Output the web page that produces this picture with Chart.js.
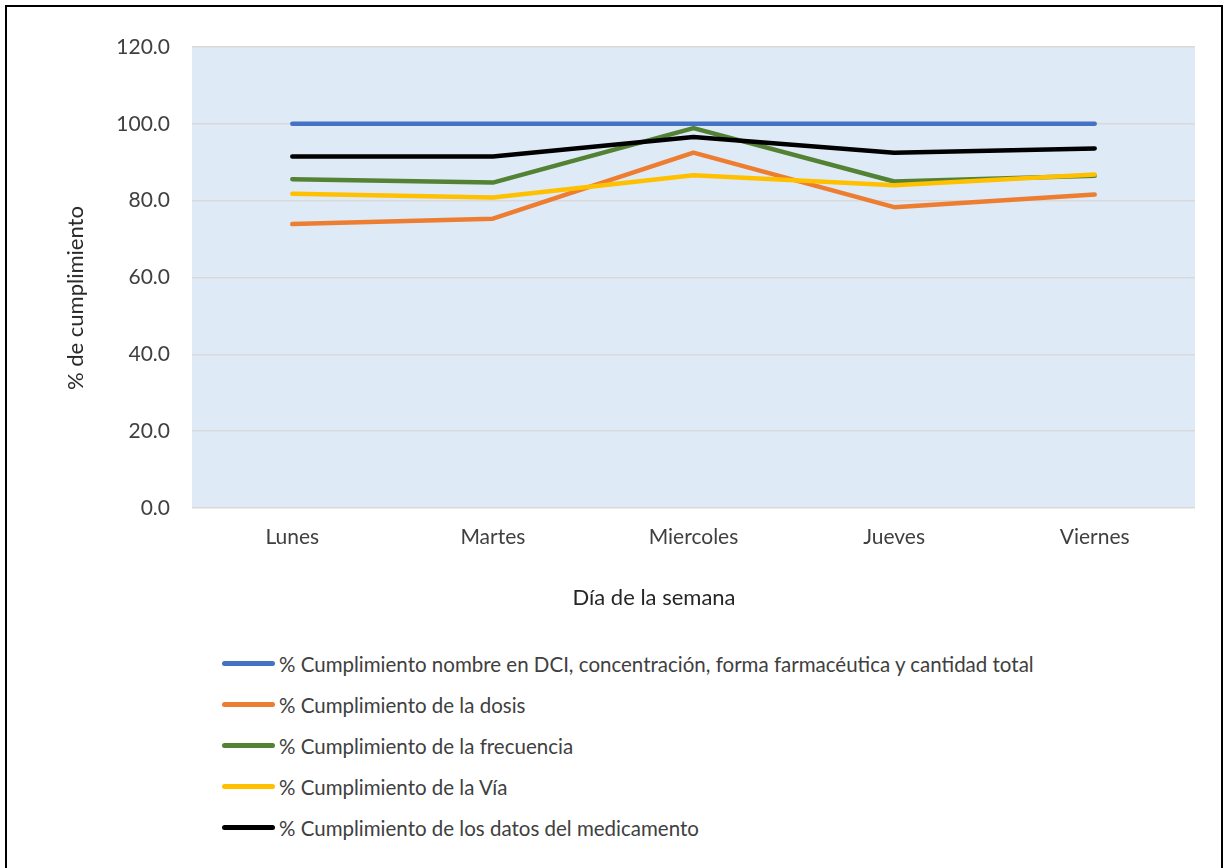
<!DOCTYPE html>
<html lang="es">
<head>
<meta charset="UTF-8">
<title>% de cumplimiento por día</title>
<script src="https://cdn.jsdelivr.net/npm/chart.js"></script>
<style>
  body { margin: 0; background: #fff; font-family: Lato, sans-serif; }
  #wrap { position: relative; width: 1229px; height: 868px; overflow: hidden; }
  #frame { position: absolute; left: 5px; top: 5px; width: 1214px; height: 900px; border: 2.5px solid #000; }
  #chartBox { position: absolute; left: 0; top: 0; width: 1229px; height: 613px; }
  .axTitle { position: absolute; font-size: 22px; color: #262626; white-space: nowrap; line-height: 1; }
  #xTitle { left: 654px; top: 597px; transform: translate(-50%, -50%); }
  #yTitle { left: 75px; top: 298px; transform: translate(-50%, -50%) rotate(-90deg); }
  #legend { position: absolute; left: 222px; top: 643px; margin: 0; padding: 0; list-style: none; }
  #legend li { height: 41px; display: flex; align-items: center; font-size: 20.5px; color: #404040; white-space: nowrap; }
  #legend li span.ln { display: inline-block; width: 53px; height: 5px; border-radius: 3px; margin-right: 4px; }
</style>
</head>
<body>
<div id="wrap">
  <div id="frame"></div>
  <div id="chartBox"><canvas id="chart"></canvas></div>
  <div class="axTitle" id="yTitle">% de cumplimiento</div>
  <div class="axTitle" id="xTitle">Día de la semana</div>
  <ul id="legend"></ul>
</div>
<script>
  const dias = ['Lunes', 'Martes', 'Miercoles', 'Jueves', 'Viernes'];

  const nombreDCI = [100, 100, 100, 100, 100];
  const dosis = [73.9, 75.3, 92.5, 78.3, 81.6];
  const frecuencia = [85.6, 84.7, 98.9, 85.0, 86.5];
  const via = [81.8, 80.8, 86.6, 84.0, 86.8];
  const datosMedicamento = [91.5, 91.5, 96.6, 92.5, 93.6];

  const series = [
    { label: '% Cumplimiento nombre en DCI, concentración, forma farmacéutica y cantidad total', data: nombreDCI, color: '#4472c4' },
    { label: '% Cumplimiento de la dosis', data: dosis, color: '#ed7d31' },
    { label: '% Cumplimiento de la frecuencia', data: frecuencia, color: '#548235' },
    { label: '% Cumplimiento de la Vía', data: via, color: '#ffc000' },
    { label: '% Cumplimiento de los datos del medicamento', data: datosMedicamento, color: '#000000' }
  ];

  // fondo azul del área de trazado
  const plotBg = {
    id: 'plotBg',
    beforeDraw(chart) {
      const a = chart.chartArea;
      const ctx = chart.ctx;
      ctx.save();
      ctx.fillStyle = '#deeaf6';
      ctx.fillRect(a.left, a.top, a.right - a.left, a.bottom - a.top);
      ctx.restore();
    }
  };

  const chart = new Chart(document.getElementById('chart'), {
    type: 'line',
    data: {
      labels: dias,
      datasets: series.map((s, i) => ({
        label: s.label,
        data: s.data,
        borderColor: s.color,
        backgroundColor: s.color,
        borderWidth: 4.5,
        borderCapStyle: 'round',
        borderJoinStyle: 'round',
        pointRadius: 0,
        tension: 0,
        order: series.length - i
      }))
    },
    options: {
      responsive: true,
      maintainAspectRatio: false,
      animation: false,
      layout: { padding: { left: 55, top: 47, right: 34, bottom: 0 } },
      plugins: { legend: { display: false }, tooltip: { enabled: false } },
      scales: {
        x: {
          offset: true,
          grid: { display: false, drawTicks: false },
          border: { display: false },
          ticks: { padding: 17, color: '#404040', font: { family: 'Lato', size: 21 } },
          afterFit(scale) { scale.height = 105; }
        },
        y: {
          min: 0,
          max: 120,
          grid: { color: '#d9d9d9', lineWidth: 1.5, drawTicks: false },
          border: { display: false },
          ticks: {
            stepSize: 20,
            padding: 22,
            color: '#404040',
            font: { family: 'Lato', size: 21 },
            callback: v => v.toFixed(1)
          },
          afterFit(scale) { scale.width = 137; }
        }
      }
    },
    plugins: [plotBg]
  });

  const legend = document.getElementById('legend');
  series.forEach(s => {
    const li = document.createElement('li');
    const ln = document.createElement('span');
    ln.className = 'ln';
    ln.style.background = s.color;
    li.appendChild(ln);
    li.appendChild(document.createTextNode(s.label));
    legend.appendChild(li);
  });
</script>
</body>
</html>
